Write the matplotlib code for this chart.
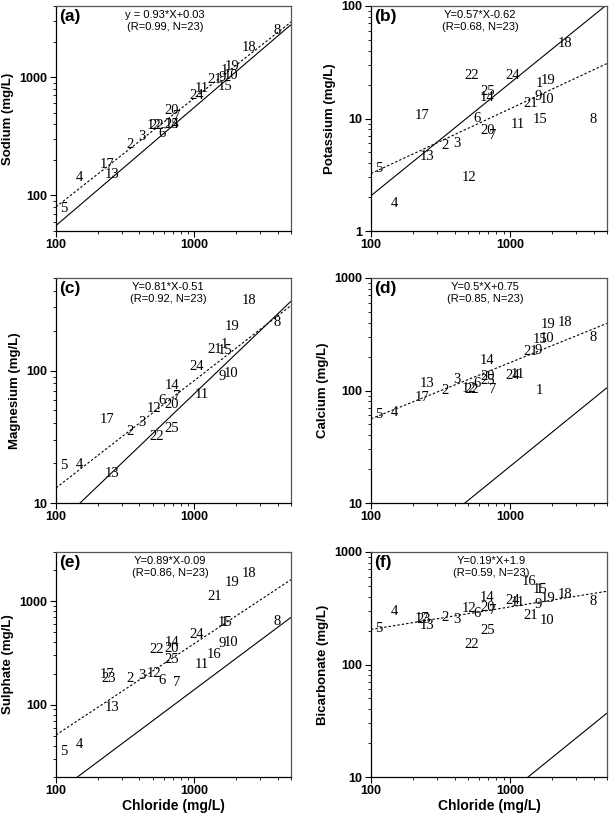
import numpy as np
import matplotlib
matplotlib.use("Agg")
import matplotlib.pyplot as plt
from matplotlib.ticker import LogLocator, NullFormatter, FixedLocator, FixedFormatter

nan = np.nan
labels = [str(i) for i in range(1, 26)]
#            1     2    3    4    5    6    7     8     9    10    11   12   13   14    15    16   17    18    19   20    21   22   23    24   25
chloride = [1640, 340, 418, 147, 114, 580, 750, 4000, 1600, 1840, 1140, 510, 255, 690, 1660, 1380, 232, 2500, 1890, 690, 1413, 530, 240, 1040, 690]

sodium = [1146, 267, 314, 143, 78, 336, 463, 2490, 1000, 1040, 803, 394, 149, 399, 828, nan, 181, 1766, 1239, 527, 962, 387, nan, 695, 395]
potassium = [20.5, 5.7, 6.0, 1.75, 3.6, 9.9, 7.0, 9.7, 15.8, 14.9, 8.9, 3.0, 4.6, 15.4, 9.8, nan, 10.7, 46.5, 21.6, 7.9, 13.6, 24.3, nan, 24.3, 17.3]
magnesium = [157, 34.6, 40.8, 19.6, 19.3, 59.6, 64, 230, 90, 95, 65.9, 52, 16.6, 77.6, 141, nan, 42.5, 336, 217, 55.2, 144, 32, nan, 108, 36.8]
calcium = [99.6, 99.6, 125, 64, 61, 115, 102, 293, 228, 289, 138, 104, 115, 185, 283, nan, 87.5, 403, 384, 133, 223, 102, nan, 135, 122]
sulphate = [623, 180, 190, 41, 35, 170, 164, 637, 391, 400, 247, 202, 93, 400, 623, 308, 198, 1862, 1535, 352, 1109, 344, 181, 481, 271]
bicarbonate = [464, 264, 251, 298, 207, 284, 302, 361, 341, 248, 358, 315, 224, 397, 464, 543, 255, 419, 384, 324, 273, 151, 250, 373, 202]

line_x = [100, 5000]
seawater_y = {"a": [55.6, 2780], "b": [2.06, 103], "c": [6.7, 334],
              "d": [2.1, 106], "e": [14, 700], "f": [0.74, 37]}
regress_y = {"a": [80, 2930], "b": [3.24, 30.8], "c": [13, 310],
             "d": [56, 395], "e": [51, 1620], "f": [205, 448]}

panel_keys = ["a", "b", "c", "d", "e", "f"]
ion_values = [sodium, potassium, magnesium, calcium, sulphate, bicarbonate]
ylabels = ["Sodium (mg/L)", "Potassium (mg/L)", "Magnesium (mg/L)",
           "Calcium (mg/L)", "Sulphate (mg/L)", "Bicarbonate (mg/L)"]
eq_line1 = ["y = 0.93*X+0.03", "Y=0.57*X-0.62", "Y=0.81*X-0.51",
            "Y=0.5*X+0.75", "Y=0.89*X-0.09", "Y=0.19*X+1.9"]
eq_line2 = ["(R=0.99, N=23)", "(R=0.68, N=23)", "(R=0.92, N=23)",
            "(R=0.85, N=23)", "(R=0.86, N=23)", "(R=0.59, N=23)"]
ylims = [(50, 4000), (1, 100), (10, 500), (10, 1000), (20, 3000), (10, 1000)]
yticks = [[100, 1000], [1, 10, 100], [10, 100], [10, 100, 1000], [100, 1000], [10, 100, 1000]]
xticks = [100, 1000]
xlabel = "Chloride (mg/L)"

W, H = 609, 818
fig = plt.figure(figsize=(W / 100, H / 100), dpi=100)
sans = "Liberation Sans"
serif = "Liberation Serif"

lefts = [56, 371]
widths = [235, 236]
tops = [6, 278, 552]
height = 225
eq_x = [0.465, 0.462, 0.477, 0.483, 0.485, 0.51]

for i, key in enumerate(panel_keys):
    r, c = divmod(i, 2)
    ax = fig.add_axes([lefts[c] / W, 1 - (tops[r] + height) / H, widths[c] / W, height / H])
    ax.set_xscale("log")
    ax.set_yscale("log")
    ax.set_xlim(100, 5000)
    ax.set_ylim(*ylims[i])

    ax.plot(line_x, seawater_y[key], color="black", lw=0.8, solid_capstyle="butt")
    ax.plot(line_x, regress_y[key], color="black", lw=0.8, linestyle=(0, (2.2, 1.8)))

    vals = ion_values[i]
    for lab, xv, yv in zip(labels, chloride, vals):
        if np.isnan(yv):
            continue
        ax.text(xv, yv, lab, ha="center", va="center", fontsize=10.5,
                family=serif, color="black", clip_on=True)

    ax.text(0.015, 0.955, f"({key})", transform=ax.transAxes, ha="left", va="center",
            fontsize=12.5, fontweight="bold", family=sans)
    ax.text(eq_x[i], 0.962, eq_line1[i], transform=ax.transAxes, ha="center", va="center",
            fontsize=8, family=sans)
    ax.text(eq_x[i], 0.905, eq_line2[i], transform=ax.transAxes, ha="center", va="center",
            fontsize=8, family=sans)

    ax.xaxis.set_major_locator(FixedLocator(xticks))
    ax.xaxis.set_major_formatter(FixedFormatter([str(t) for t in xticks]))
    ax.yaxis.set_major_locator(FixedLocator(yticks[i]))
    ax.yaxis.set_major_formatter(FixedFormatter([str(t) for t in yticks[i]]))
    ax.xaxis.set_minor_locator(LogLocator(base=10, subs=np.arange(2, 10)))
    ax.yaxis.set_minor_locator(LogLocator(base=10, subs=np.arange(2, 10)))
    ax.xaxis.set_minor_formatter(NullFormatter())
    ax.yaxis.set_minor_formatter(NullFormatter())
    ax.tick_params(which="major", direction="out", length=4, width=0.8, pad=2,
                   top=False, right=False, labelsize=9)
    ax.tick_params(which="minor", direction="out", length=2, width=0.6,
                   top=False, right=False)
    for t in ax.get_xticklabels() + ax.get_yticklabels():
        t.set_fontweight("bold")
        t.set_family(sans)
    for s in ["left", "bottom"]:
        ax.spines[s].set_color("black")
        ax.spines[s].set_linewidth(0.9)
    for s in ["top", "right"]:
        ax.spines[s].set_color("#555555")
        ax.spines[s].set_linewidth(0.9)

    ax.set_ylabel(ylabels[i], fontsize=9.5, fontweight="bold", family=sans, labelpad=4)
    if r == 2:
        ax.set_xlabel(xlabel, fontsize=10, fontweight="bold", family=sans, labelpad=1.5)

fig.savefig("out.png", dpi=100)
